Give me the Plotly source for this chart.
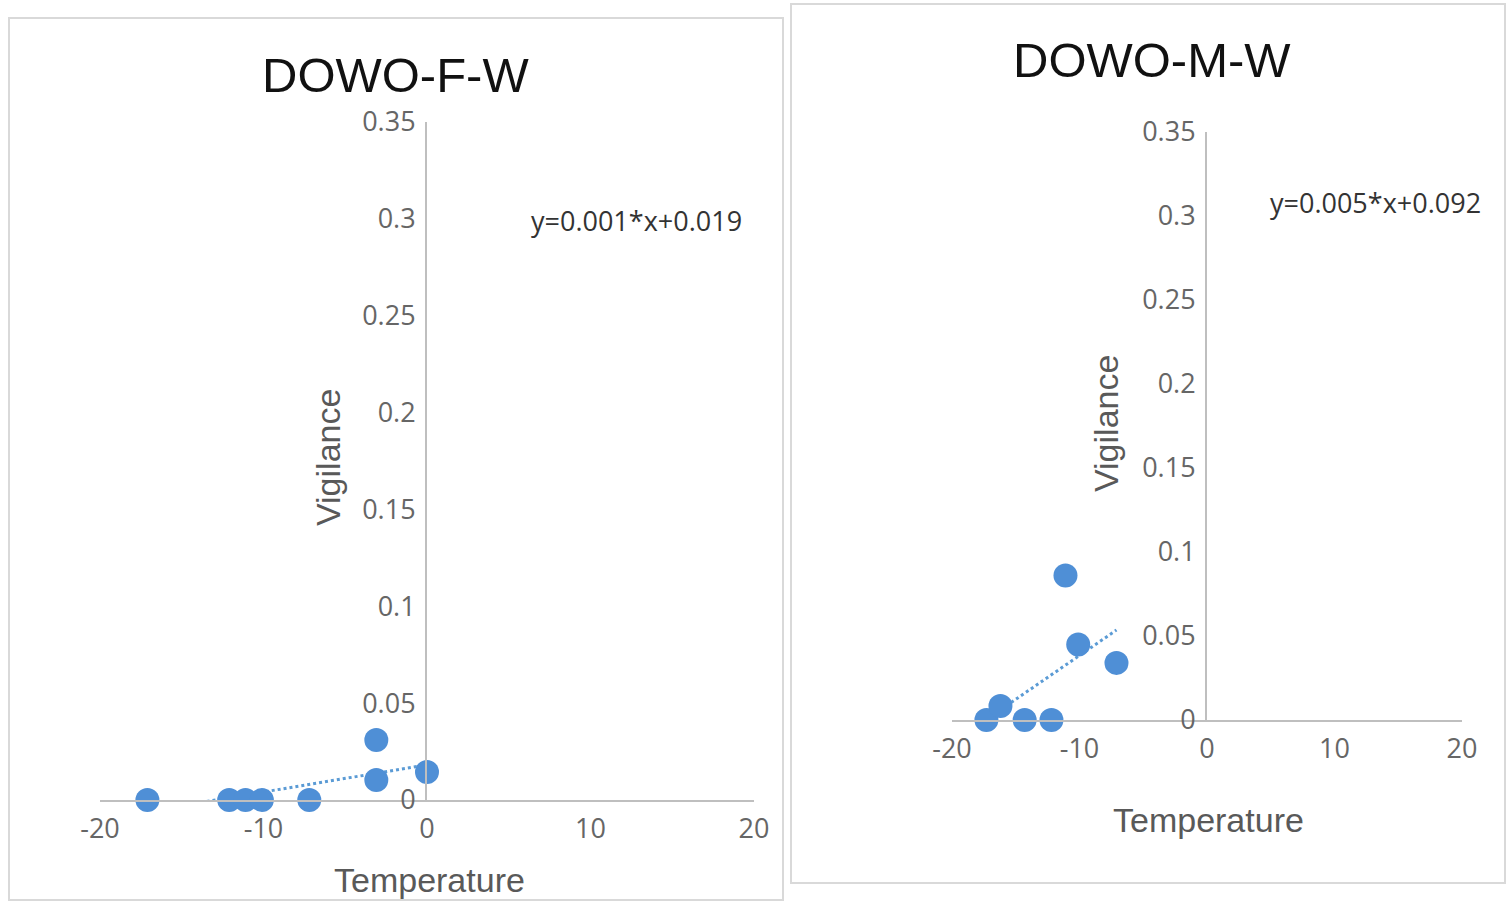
import numpy as np
import plotly.graph_objects as go

# ---- data ----
titles = ["DOWO-F-W", "DOWO-M-W"]
equations = ["y=0.001*x+0.019", "y=0.005*x+0.092"]
f_temp = [-17.1, -12.1, -11.1, -10.1, -7.2, -3.1, -3.1, 0.0]
f_vig = [0.0, 0.0, 0.0, 0.0, 0.0, 0.031, 0.0103, 0.0145]
m_temp = [-17.3, -16.2, -14.3, -12.2, -11.1, -10.1, -7.1]
m_vig = [0.0, 0.0083, 0.0, 0.0, 0.086, 0.045, 0.034]
x_ticks = [-20, -10, 0, 10, 20]
x_ticktext = ["-20", "-10", "0", "10", "20"]
y_ticks = [0, 0.05, 0.1, 0.15, 0.2, 0.25, 0.3, 0.35]
y_ticktext = ["0", "0.05", "0.1", "0.15", "0.2", "0.25", "0.3", "0.35"]

W, H = 1508, 903
def px(x): return x / W
def py(y): return 1 - y / H

PT = "#4f8fd6"
LINE = "#5b9bd5"
TICK_FONT = dict(family="Open Sans", size=27, color="#666666")
AX_FONT = dict(family="Liberation Sans", size=34, color="#595959")
TITLE_FONT = dict(family="Liberation Sans", size=49, color="#111111")
EQ_FONT = dict(family="Open Sans", size=27, color="#333333")

fig = go.Figure()

panels = [
    dict(x=f_temp, y=f_vig, xa="x", ya="y",
         xdom=[px(100), px(754)], ydom=[py(800), py(122)], ypos=px(426)),
    dict(x=m_temp, y=m_vig, xa="x2", ya="y2",
         xdom=[px(952), px(1462)], ydom=[py(720), py(132)], ypos=px(1206)),
]

for p in panels:
    xs = np.array(p["x"]); ys = np.array(p["y"])
    k, b = np.polyfit(xs, ys, 1)
    lx = np.array([xs.min(), xs.max()])
    fig.add_trace(go.Scatter(x=lx, y=k * lx + b, mode="lines", xaxis=p["xa"], yaxis=p["ya"],
                             line=dict(color=LINE, width=3, dash="dot"), showlegend=False,
                             hoverinfo="skip", cliponaxis=False))
    fig.add_trace(go.Scatter(x=xs, y=ys, mode="markers", xaxis=p["xa"], yaxis=p["ya"],
                             marker=dict(color=PT, size=24, line=dict(width=0)),
                             showlegend=False, cliponaxis=False))

def xaxis(p, anchor):
    return dict(domain=p["xdom"], range=[-20, 20], anchor=anchor, showgrid=False,
                zeroline=False, showline=True, linecolor="#bfbfbf", linewidth=2,
                tickvals=x_ticks, ticktext=x_ticktext, ticks="", tickfont=TICK_FONT,
                ticklabelstandoff=4, fixedrange=True, automargin=False)

def yaxis(p):
    return dict(domain=p["ydom"], range=[0, 0.35], anchor="free", position=p["ypos"],
                showgrid=False, zeroline=False, showline=True, linecolor="#bfbfbf",
                linewidth=2, tickvals=y_ticks, ticktext=y_ticktext, ticks="",
                tickfont=TICK_FONT, ticklabelstandoff=4, fixedrange=True, automargin=False)

fig.update_layout(
    width=W, height=H, margin=dict(l=0, r=0, t=0, b=0, autoexpand=False),
    paper_bgcolor="white", plot_bgcolor="rgba(0,0,0,0)",
    xaxis=xaxis(panels[0], "y"), yaxis=yaxis(panels[0]),
    xaxis2=xaxis(panels[1], "y2"), yaxis2=yaxis(panels[1]),
)

# panel borders
fig.add_shape(type="rect", xref="paper", yref="paper", x0=px(9), x1=px(783), y0=py(900), y1=py(18),
              line=dict(color="#d9d9d9", width=2), layer="below")
fig.add_shape(type="rect", xref="paper", yref="paper", x0=px(791), x1=px(1505), y0=py(883), y1=py(4),
              line=dict(color="#d9d9d9", width=2), layer="below")

ann = [
    dict(text=titles[0], x=px(395), y=py(75), font=TITLE_FONT),
    dict(text=titles[1], x=px(1152), y=py(60), font=TITLE_FONT),
    dict(text=equations[0], x=px(636), y=py(220), font=EQ_FONT),
    dict(text=equations[1], x=px(1375), y=py(202), font=EQ_FONT),
    dict(text="Vigilance", x=px(328), y=py(458), font=AX_FONT, textangle=-90),
    dict(text="Vigilance", x=px(1106), y=py(424), font=AX_FONT, textangle=-90),
    dict(text="Temperature", x=px(429), y=py(880), font=AX_FONT),
    dict(text="Temperature", x=px(1208), y=py(820), font=AX_FONT),
]
for a in ann:
    fig.add_annotation(xref="paper", yref="paper", showarrow=False,
                       xanchor="center", yanchor="middle", **a)

fig.write_html("out.html", config={"displayModeBar": False},
               post_script="document.body.style.margin='0';document.body.style.overflow='hidden';")
